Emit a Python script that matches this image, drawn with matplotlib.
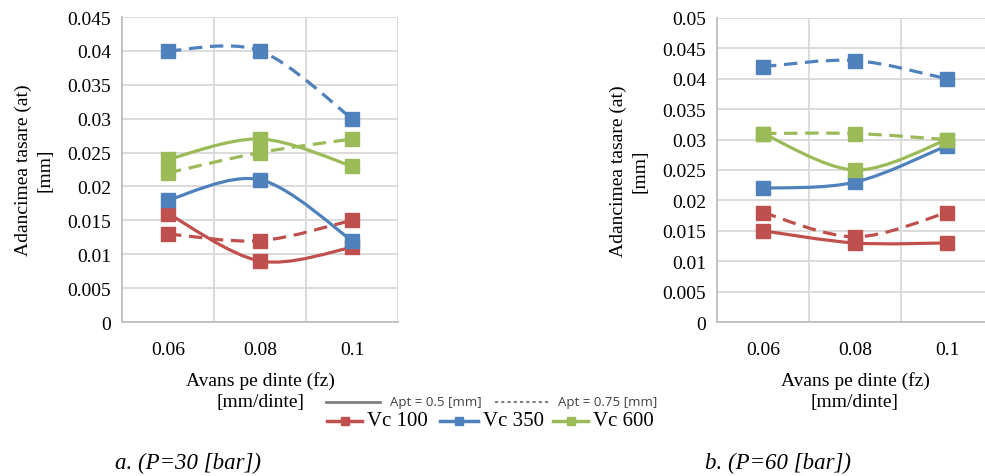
import numpy as np
import matplotlib.pyplot as plt
from matplotlib.path import Path
from matplotlib.patches import PathPatch
from matplotlib.lines import Line2D

plt.rcParams['font.family'] = ['Liberation Serif', 'DejaVu Serif']

# avans pe dinte (categorii)
feeds = ['0.06', '0.08', '0.1']
series_names = ['Vc 100', 'Vc 350', 'Vc 600']
colors = ['#C0504D', '#4F81BD', '#9BBB59']

# P = 30 bar
p30_apt05 = [[0.016, 0.009, 0.011],
             [0.018, 0.021, 0.012],
             [0.024, 0.027, 0.023]]
p30_apt075 = [[0.013, 0.012, 0.015],
              [0.040, 0.040, 0.030],
              [0.022, 0.025, 0.027]]

# P = 60 bar
p60_apt05 = [[0.015, 0.013, 0.013],
             [0.022, 0.023, 0.029],
             [0.031, 0.025, 0.030]]
p60_apt075 = [[0.018, 0.014, 0.018],
              [0.042, 0.043, 0.040],
              [0.031, 0.031, 0.030]]

yticks_a = [0, 0.005, 0.01, 0.015, 0.02, 0.025, 0.03, 0.035, 0.04, 0.045]
yticks_b = [0, 0.005, 0.01, 0.015, 0.02, 0.025, 0.03, 0.035, 0.04, 0.045, 0.05]


def smooth_path(x, y):
    # curba netezita ca in Excel (bezier de tip Catmull-Rom)
    pts = np.column_stack([x, y])
    verts = [pts[0]]
    codes = [Path.MOVETO]
    n = len(pts)
    for i in range(n - 1):
        p0 = pts[i - 1] if i > 0 else pts[i]
        p1 = pts[i]
        p2 = pts[i + 1]
        p3 = pts[i + 2] if i + 2 < n else pts[i + 1]
        c1 = p1 + (p2 - p0) / 6.0
        c2 = p2 - (p3 - p1) / 6.0
        verts += [c1, c2, p2]
        codes += [Path.CURVE4] * 3
    return Path(verts, codes)


def draw_panel(ax, solid, dashed, yticks):
    x = np.arange(len(feeds)) + 0.5
    for vals, ls in [(solid, '-'), (dashed, (0, (4.2, 2.4)))]:
        for v, c in zip(vals, colors):
            patch = PathPatch(smooth_path(x, v), fill=False, edgecolor=c,
                              lw=2.3, linestyle=ls, capstyle='butt', zorder=3)
            ax.add_patch(patch)
            ax.plot(x, v, ls='none', marker='s', ms=10.5, color=c,
                    mec=c, zorder=4)
    ax.set_xlim(0, 3)
    ax.set_ylim(yticks[0], yticks[-1])
    ax.set_xticks(x)
    ax.set_xticklabels(feeds)
    ax.set_xticks([0, 1, 2, 3], minor=True)
    ax.set_yticks(yticks)
    ax.set_yticklabels(['0'] + ['%g' % t for t in yticks[1:]])
    ax.grid(which='minor', axis='x', color='#D9D9D9', lw=1.3)
    ax.grid(which='major', axis='y', color='#D9D9D9', lw=1.3)
    ax.set_axisbelow(True)
    for s in ['top', 'right']:
        ax.spines[s].set_visible(False)
    for s in ['left', 'bottom']:
        ax.spines[s].set_color('#BFBFBF')
        ax.spines[s].set_linewidth(1.3)
    ax.tick_params(which='both', length=0, labelsize=14)
    ax.tick_params(axis='x', pad=14)
    ax.tick_params(axis='y', pad=8)
    ax.set_ylabel('Adancimea tasare (at)\n[mm]', fontsize=14, labelpad=10,
                  linespacing=1.35)
    ax.set_xlabel('Avans pe dinte (fz)\n[mm/dinte]', fontsize=14, labelpad=9,
                  linespacing=1.3)


fig = plt.figure(figsize=(9.85, 4.77), dpi=100)
ax1 = fig.add_axes([122 / 985, 1 - 323 / 477, 276 / 985, 305 / 477])
ax2 = fig.add_axes([717 / 985, 1 - 323 / 477, 276 / 985, 304 / 477])
draw_panel(ax1, p30_apt05, p30_apt075, yticks_a)
draw_panel(ax2, p60_apt05, p60_apt075, yticks_b)

# legenda
W, H = 985.0, 477.0
def fx(px):
    return px / W
def fy(py):
    return 1 - py / H

fig.add_artist(Line2D([fx(326), fx(380)], [fy(403), fy(403)], color='#7F7F7F', lw=2))
fig.text(fx(390), fy(403), 'Apt = 0.5 [mm]', family='Open Sans', fontsize=9.5,
         color='#404040', va='center')
fig.add_artist(Line2D([fx(495), fx(550)], [fy(403), fy(403)], color='#7F7F7F',
                      lw=1.5, ls=(0, (1.5, 1.5))))
fig.text(fx(558), fy(403), 'Apt = 0.75 [mm]', family='Open Sans', fontsize=9.5,
         color='#404040', va='center')
leg_x = [(327, 362, 367), (440, 478, 483), (553, 588, 593)]
for (a, b, t), c, name in zip(leg_x, colors, series_names):
    fig.add_artist(Line2D([fx(a), fx(b)], [fy(422), fy(422)], color=c, lw=2.5))
    fig.add_artist(Line2D([fx((a + b) / 2)], [fy(422)], color=c, marker='s',
                          ms=6, ls='none'))
    fig.text(fx(t), fy(422), name, fontsize=15, va='center')

fig.text(fx(115), fy(463), 'a. (P=30 [bar])', fontsize=16.5, style='italic',
         va='center')
fig.text(fx(705), fy(463), 'b. (P=60 [bar])', fontsize=16.5, style='italic',
         va='center')

fig.savefig('out.png', dpi=100)
